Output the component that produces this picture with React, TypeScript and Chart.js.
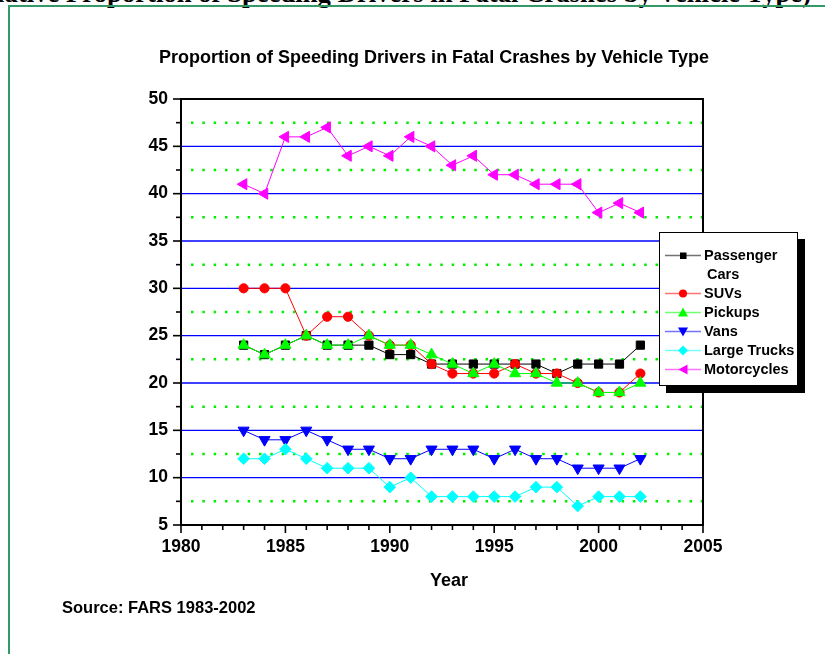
import React, { useEffect, useRef } from "react";
import { Chart, registerables } from "chart.js";

Chart.register(...registerables);

const years = [1983, 1984, 1985, 1986, 1987, 1988, 1989, 1990, 1991, 1992, 1993, 1994, 1995, 1996, 1997, 1998, 1999, 2000, 2001, 2002];
const passengerCars = [24, 23, 24, 25, 24, 24, 24, 23, 23, 22, 22, 22, 22, 22, 22, 21, 22, 22, 22, 24];
const suvs = [30, 30, 30, 25, 27, 27, 25, 24, 24, 22, 21, 21, 21, 22, 21, 21, 20, 19, 19, 21];
const pickups = [24, 23, 24, 25, 24, 24, 25, 24, 24, 23, 22, 21, 22, 21, 21, 20, 20, 19, 19, 20];
const vans = [15, 14, 14, 15, 14, 13, 13, 12, 12, 13, 13, 13, 12, 13, 12, 12, 11, 11, 11, 12];
const largeTrucks = [12, 12, 13, 12, 11, 11, 11, 9, 10, 8, 8, 8, 8, 8, 9, 9, 7, 8, 8, 8];
const motorcycles = [41, 40, 46, 46, 47, 44, 45, 44, 46, 45, 43, 44, 42, 42, 41, 41, 41, 38, 39, 38];

const seriesNames = ["Passenger Cars", "SUVs", "Pickups", "Vans", "Large Trucks", "Motorcycles"];
const seriesColors = ["#000000", "#ff0000", "#00ff00", "#0000ff", "#00ffff", "#ff00ff"];

const xMin = 1980;
const xMax = 2005;
const yMin = 5;
const yMax = 50;

const FONT = "'Liberation Sans', Arial, sans-serif";

const gridPlugin = {
  id: "customGrid",
  beforeDatasetsDraw(chart: any) {
    const { ctx, chartArea: a, scales } = chart;
    const xs = scales.x;
    const ys = scales.y;
    ctx.save();
    for (const t of ys.ticks) {
      const v = t.value;
      if (v <= yMin || v >= yMax) continue;
      const py = ys.getPixelForValue(v);
      ctx.beginPath();
      if (Math.abs(v % 5) < 1e-6) {
        ctx.setLineDash([]);
        ctx.strokeStyle = "#0000ff";
        ctx.lineWidth = 1.4;
        ctx.moveTo(a.left, py);
        ctx.lineTo(a.right, py);
      } else {
        ctx.setLineDash([2.5, 8.83]);
        ctx.strokeStyle = "#00ee00";
        ctx.lineWidth = 2.5;
        ctx.moveTo(a.left + 10, py);
        ctx.lineTo(a.right - 1, py);
      }
      ctx.stroke();
    }
    ctx.setLineDash([]);
    ctx.strokeStyle = "#000";
    ctx.lineWidth = 1.6;
    for (const t of ys.ticks) {
      const py = ys.getPixelForValue(t.value);
      const len = Math.abs(t.value % 5) < 1e-6 ? 8 : 5;
      ctx.beginPath();
      ctx.moveTo(a.left - len, py);
      ctx.lineTo(a.left, py);
      ctx.stroke();
    }
    for (const t of xs.ticks) {
      const px = xs.getPixelForValue(t.value);
      const len = Math.abs(t.value % 5) < 1e-6 ? 8 : 5;
      ctx.beginPath();
      ctx.moveTo(px, a.bottom);
      ctx.lineTo(px, a.bottom + len);
      ctx.stroke();
    }
    ctx.lineWidth = 2;
    ctx.strokeRect(a.left, a.top, a.right - a.left, a.bottom - a.top);
    ctx.restore();
  },
};

function makeDataset(i: number, values: number[], style: string, radius: number, rotation: number) {
  return {
    label: seriesNames[i],
    data: years.map((yr, k) => ({ x: yr, y: values[k] })),
    borderColor: seriesColors[i],
    backgroundColor: seriesColors[i],
    borderWidth: 1,
    pointStyle: style,
    pointRadius: radius,
    pointHoverRadius: radius,
    pointRotation: rotation,
    pointBorderWidth: 1,
    pointBackgroundColor: seriesColors[i],
    pointBorderColor: seriesColors[i],
    tension: 0,
    fill: false,
    order: 6 - i,
  };
}

const legendItems = [
  { name: "Passenger", name2: "Cars", color: seriesColors[0], shape: "rect" },
  { name: "SUVs", color: seriesColors[1], shape: "circle" },
  { name: "Pickups", color: seriesColors[2], shape: "up" },
  { name: "Vans", color: seriesColors[3], shape: "down" },
  { name: "Large Trucks", color: seriesColors[4], shape: "diamond" },
  { name: "Motorcycles", color: seriesColors[5], shape: "left" },
];

function Marker({ shape, color }: { shape: string; color: string }) {
  let m: any = null;
  if (shape === "rect") m = <rect x={15} y={6.5} width={6.5} height={6.5} fill={color} />;
  else if (shape === "circle") m = <circle cx={18} cy={9.5} r={4} fill={color} />;
  else if (shape === "up") m = <polygon points="18,4.5 23,13.5 13,13.5" fill={color} />;
  else if (shape === "down") m = <polygon points="13,5.5 23,5.5 18,14.5" fill={color} />;
  else if (shape === "diamond") m = <polygon points="18,4.5 23,9.5 18,14.5 13,9.5" fill={color} />;
  else if (shape === "left") m = <polygon points="13.5,9.5 22.5,4.5 22.5,14.5" fill={color} />;
  return (
    <svg width={36} height={19} style={{ position: "absolute", left: 0, top: 0 }}>
      <line x1={0} x2={36} y1={9.5} y2={9.5} stroke={color} strokeWidth={1.5} opacity={0.55} />
      {m}
    </svg>
  );
}

export default function App() {
  const canvasRef = useRef<HTMLCanvasElement>(null);

  useEffect(() => {
    const canvas = canvasRef.current;
    if (!canvas) return;
    const tickFont = { family: FONT, size: 17.5, weight: "bold" as const };
    const chart = new Chart(canvas, {
      type: "line",
      data: {
        datasets: [
          makeDataset(0, passengerCars, "rect", 5.8, 0),
          makeDataset(1, suvs, "circle", 4.6, 0),
          makeDataset(2, pickups, "triangle", 6.4, 0),
          makeDataset(3, vans, "triangle", 6.4, 180),
          makeDataset(4, largeTrucks, "rectRot", 5.8, 0),
          makeDataset(5, motorcycles, "triangle", 6.4, 270),
        ] as any,
      },
      options: {
        animation: false,
        responsive: false,
        devicePixelRatio: 1,
        layout: { padding: { left: 0, right: 122, top: 99, bottom: 0 } },
        plugins: {
          legend: { display: false },
          title: { display: false },
          tooltip: { enabled: false },
        },
        events: [],
        scales: {
          x: {
            type: "linear",
            min: xMin,
            max: xMax,
            grid: { display: false, drawTicks: false },
            border: { display: false },
            ticks: {
              stepSize: 1,
              autoSkip: false,
              maxRotation: 0,
              padding: 12,
              color: "#000",
              font: tickFont,
              callback: (v: any) => (Number(v) % 5 === 0 ? String(v) : ""),
            },
            afterFit: (s: any) => {
              s.height = 654 - 525;
            },
          },
          y: {
            type: "linear",
            min: yMin,
            max: yMax,
            grid: { display: false, drawTicks: false },
            border: { display: false },
            ticks: {
              stepSize: 2.5,
              autoSkip: false,
              padding: 13,
              color: "#000",
              font: tickFont,
              callback: (v: any) => (Math.abs(Number(v) % 5) < 1e-6 ? String(v) : ""),
            },
            afterFit: (s: any) => {
              s.width = 181;
            },
          },
        },
      } as any,
      plugins: [gridPlugin],
    });
    return () => chart.destroy();
  }, []);

  return (
    <div style={{ position: "absolute", left: 0, top: 0, width: 825, height: 654, overflow: "hidden", background: "#fff" }}>
      <div style={{ position: "absolute", left: 8, top: 5, width: 900, height: 700, background: "#fff" }} />
      <div
        style={{
          position: "absolute",
          left: -34,
          top: -22,
          whiteSpace: "nowrap",
          font: "bold 26.7px 'Liberation Serif', 'Times New Roman', serif",
          lineHeight: "30px",
          color: "#000",
        }}
      >
        Relative Proportion of Speeding Drivers in Fatal Crashes by Vehicle Type)
      </div>
      <div style={{ position: "absolute", left: 8, top: 5, width: 900, height: 2, background: "#339966" }} />
      <div style={{ position: "absolute", left: 8, top: 5, width: 2, height: 700, background: "#339966" }} />
      <canvas ref={canvasRef} width={825} height={654} style={{ position: "absolute", left: 0, top: 0, width: 825, height: 654 }} />
      <div
        style={{
          position: "absolute",
          left: 434,
          top: 47,
          transform: "translateX(-50%)",
          whiteSpace: "nowrap",
          font: `bold 18px ${FONT}`,
          lineHeight: "20px",
          color: "#000",
        }}
      >
        Proportion of Speeding Drivers in Fatal Crashes by Vehicle Type
      </div>
      <div
        style={{
          position: "absolute",
          left: 449,
          top: 569,
          transform: "translateX(-50%)",
          whiteSpace: "nowrap",
          font: `bold 18px ${FONT}`,
          lineHeight: "22px",
          color: "#000",
        }}
      >
        Year
      </div>
      <div
        style={{
          position: "absolute",
          left: 62,
          top: 597,
          whiteSpace: "nowrap",
          font: `bold 16.5px ${FONT}`,
          lineHeight: "20px",
          color: "#000",
        }}
      >
        Source: FARS 1983-2002
      </div>
      <div
        style={{
          position: "absolute",
          left: 659,
          top: 232,
          width: 139,
          height: 154,
          boxSizing: "border-box",
          border: "1px solid #000",
          background: "#fff",
          boxShadow: "7px 7px 0 0 #000",
        }}
      >
        {legendItems.map((it, i) => {
          const center = i === 0 ? 22 : 41 + i * 19;
          return (
            <React.Fragment key={it.name}>
              <div style={{ position: "absolute", left: 5, top: center - 9.5, width: 36, height: 19 }}>
                <Marker shape={it.shape} color={it.color} />
              </div>
              <div
                style={{
                  position: "absolute",
                  left: 44,
                  top: center - 9.5,
                  whiteSpace: "nowrap",
                  font: `bold 14.5px ${FONT}`,
                  lineHeight: "19px",
                  color: "#000",
                }}
              >
                {it.name}
              </div>
              {it.name2 ? (
                <div
                  style={{
                    position: "absolute",
                    left: 47,
                    top: center + 19 - 9.5,
                    whiteSpace: "nowrap",
                    font: `bold 14.5px ${FONT}`,
                    lineHeight: "19px",
                    color: "#000",
                  }}
                >
                  {it.name2}
                </div>
              ) : null}
            </React.Fragment>
          );
        })}
      </div>
    </div>
  );
}
